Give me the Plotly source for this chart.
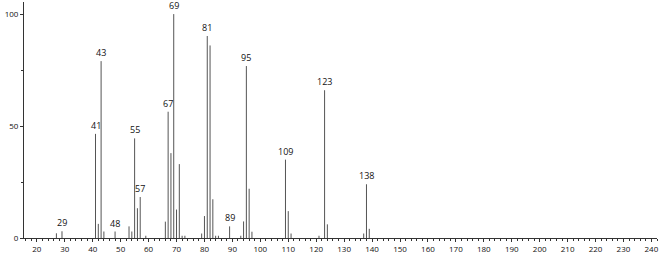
import plotly.graph_objects as go

mz = [27, 29, 41, 42, 43, 44, 48, 53, 54, 55, 56, 57, 59, 66, 67, 68, 69, 70, 71, 72, 73,
      79, 80, 81, 82, 83, 84, 85, 89, 93, 94, 95, 96, 97, 109, 110, 111, 121, 123, 124,
      137, 138, 139]
intensity = [2.1, 3.0, 46.5, 6.3, 79.0, 2.9, 2.9, 5.2, 2.9, 44.5, 13.3, 18.3, 1.0, 7.3, 56.4,
             37.9, 100.0, 12.7, 33.0, 1.0, 1.0, 2.0, 9.8, 90.2, 86.0, 17.3, 1.0, 1.0, 5.2,
             1.0, 7.4, 76.8, 22.0, 2.8, 35.0, 12.0, 2.0, 1.0, 66.0, 6.1, 2.0, 24.0, 4.1]
labeled = [29, 41, 43, 48, 55, 57, 67, 69, 81, 89, 95, 109, 123, 138]

xs, ys = [], []
for m, h in zip(mz, intensity):
    xs += [m, m, None]
    ys += [0, h, None]

fig = go.Figure()
fig.add_trace(go.Scatter(x=xs, y=ys, mode="lines",
                         line=dict(color="#555555", width=1), hoverinfo="skip",
                         showlegend=False))

for m in labeled:
    h = intensity[mz.index(m)]
    fig.add_annotation(x=m, y=h, text=str(m), showarrow=False, yanchor="bottom",
                       yshift=0, font=dict(size=9, color="#111111", family="Open Sans"))

fig.update_layout(
    width=666, height=254,
    margin=dict(l=24, r=9, t=2, b=16, autoexpand=False),
    plot_bgcolor="white", paper_bgcolor="white",
    font=dict(family="Open Sans", size=8, color="#111111"),
    xaxis=dict(range=[15.4, 242], tickvals=list(range(20, 241, 10)),
               ticks="outside", ticklen=3, tickcolor="#333", tickwidth=1,
               showline=True, linecolor="#333", linewidth=1, showgrid=False,
               zeroline=False, automargin=False, ticklabelstandoff=0,
               minor=dict(dtick=2, tick0=0, ticks="outside", ticklen=2, tickcolor="#333",
                          showgrid=False),
               tickfont=dict(size=8)),
    yaxis=dict(range=[0, 105.4], tickvals=[0, 50, 100], ticks="outside", ticklen=3,
               tickcolor="#333", showline=True, linecolor="#333", linewidth=1,
               showgrid=False, zeroline=False, automargin=False,
               minor=dict(tickvals=[25, 75], ticks="outside", ticklen=2, tickcolor="#333",
                          showgrid=False),
               tickfont=dict(size=8)),
)

fig.write_html("out.html")
